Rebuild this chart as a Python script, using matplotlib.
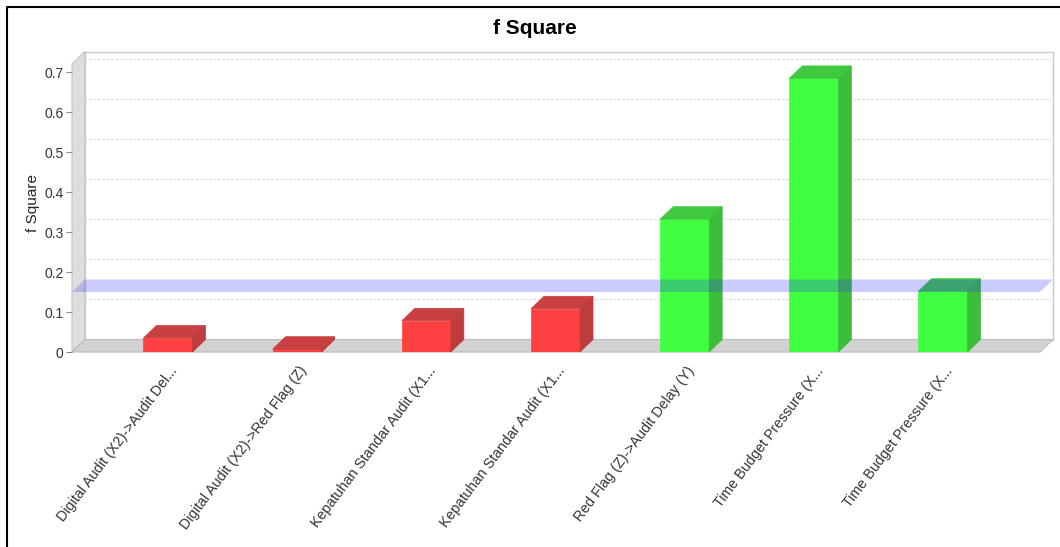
import numpy as np
import matplotlib
matplotlib.use("Agg")
import matplotlib.pyplot as plt
from matplotlib.patches import Polygon
from matplotlib.lines import Line2D
from matplotlib.transforms import ScaledTranslation

plt.rcParams["font.family"] = ["Liberation Sans", "DejaVu Sans"]

# data
labels = [
    "Digital Audit (X2)->Audit Del...",
    "Digital Audit (X2)->Red Flag (Z)",
    "Kepatuhan Standar Audit (X1...",
    "Kepatuhan Standar Audit (X1...",
    "Red Flag (Z)->Audit Delay (Y)",
    "Time Budget Pressure (X...",
    "Time Budget Pressure (X...",
]
f_square = [0.035, 0.007, 0.078, 0.108, 0.332, 0.684, 0.152]
threshold = 0.15  # medium effect marker
yticks = [0, 0.1, 0.2, 0.3, 0.4, 0.5, 0.6, 0.7]

W, H = 1060, 547
fig = plt.figure(figsize=(W / 100, H / 100), dpi=100)
ax = fig.add_axes([72 / W, 1 - 352 / H, 968 / W, 288 / H])
ax.set_facecolor("none")

xmin, xmax = -0.743, 6.751
ytop = 0.72
ax.set_xlim(xmin, xmax)
ax.set_ylim(0, ytop)

# 3d depth, converted from pixels to data units
ox = 13 / (968 / (xmax - xmin))
oy = 12.5 / (288 / ytop)
bw = 0.38

def poly(pts, **kw):
    p = Polygon(pts, closed=True, clip_on=False, **kw)
    ax.add_patch(p)
    return p

# walls and floor
poly([(xmin, 0), (xmin, ytop), (xmin + ox, ytop + oy), (xmin + ox, oy)],
     facecolor="#dedede", edgecolor="#c4c4c4", lw=0.8, zorder=0)
poly([(xmin + ox, oy), (xmin + ox, ytop + oy), (xmax + ox, ytop + oy), (xmax + ox, oy)],
     facecolor="white", edgecolor="#c8c8c8", lw=1.0, zorder=0)

for v in yticks[1:]:
    ax.plot([xmin, xmin + ox, xmax + ox], [v, v + oy, v + oy], color="#d4d4d4",
            lw=0.8, dashes=(2, 2), clip_on=False, zorder=0.5)

poly([(xmin, 0), (xmax, 0), (xmax + ox, oy), (xmin + ox, oy)],
     facecolor="#d2d2d2", edgecolor="#bdbdbd", lw=0.8, zorder=1)

# bars
x = np.arange(len(labels))
for i, v in enumerate(f_square):
    if v >= 0.15:
        front, top, side = "#40ff40", "#40c840", "#3cbe3c"
    else:
        front, top, side = "#ff4040", "#c84040", "#bf3c3c"
    xl, xr = x[i] - bw / 2, x[i] + bw / 2
    ax.bar(x[i], v, width=bw, color=front, edgecolor=front, lw=0.5, zorder=2)
    poly([(xl, v), (xr, v), (xr + ox, v + oy), (xl + ox, v + oy)],
         facecolor=top, edgecolor=top, lw=0.5, zorder=2)
    poly([(xr, 0), (xr, v), (xr + ox, v + oy), (xr + ox, oy)],
         facecolor=side, edgecolor=side, lw=0.5, zorder=2)

# threshold band
poly([(xmin, threshold), (xmax, threshold), (xmax + ox, threshold + oy),
      (xmin + ox, threshold + oy)],
     facecolor=(0.2, 0.2, 1.0), alpha=0.25, lw=0, zorder=3)

# axes styling
for s in ax.spines.values():
    s.set_visible(False)
ax.set_yticks(yticks)
ax.set_yticklabels(["0" if t == 0 else f"{t:.1f}" for t in yticks])
ax.tick_params(axis="y", length=4, color="#888888", labelsize=10,
               labelcolor="#333333", pad=2)
ax.set_xticks(x)
ax.set_xticklabels(labels, rotation=53, ha="right", va="center",
                   rotation_mode="anchor", fontsize=10.3, color="#333333")
ax.tick_params(axis="x", length=0, pad=11.5)
shift = ScaledTranslation(7 / 100, 0, fig.dpi_scale_trans)
for lab in ax.get_xticklabels():
    lab.set_transform(lab.get_transform() + shift)

fig.text(33 / W, 1 - 203 / H, "f Square", rotation=90, ha="center",
         va="center", fontsize=11, color="#222222")
fig.text(535 / W, 1 - 28 / H, "f Square", ha="center", va="center",
         fontsize=15, fontweight="bold",
         family=["Liberation Sans Narrow", "Liberation Sans", "DejaVu Sans"])

# outer frame (left and top edges)
fig.add_artist(Line2D([7 / W, 7 / W, 1], [0, 1 - 7 / H, 1 - 7 / H],
                      color="black", lw=1.5, transform=fig.transFigure))

fig.savefig("out.png", dpi=100)
